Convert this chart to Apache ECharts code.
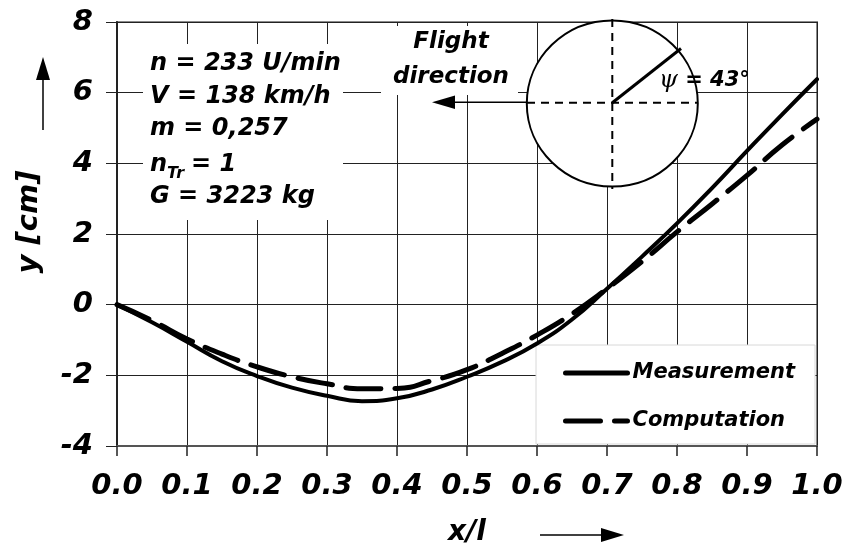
<!DOCTYPE html>
<html>
<head>
<meta charset="utf-8">
<script src="https://cdn.jsdelivr.net/npm/echarts@6/dist/echarts.min.js"></script>
<style>html,body{margin:0;padding:0;background:#fff}#c{width:849px;height:546px}</style>
</head>
<body>
<div id="c"></div>
<script>
const xVals = [0, 0.05, 0.1, 0.15, 0.2, 0.25, 0.3, 0.35, 0.4, 0.45, 0.5, 0.55, 0.6, 0.65, 0.7, 0.75, 0.8, 0.85, 0.9, 0.95, 1.0];
const measurement = [0, -0.50, -1.05, -1.60, -2.02, -2.35, -2.58, -2.73, -2.65, -2.40, -2.04, -1.62, -1.10, -0.42, 0.45, 1.36, 2.30, 3.30, 4.35, 5.38, 6.38];
const computation = [0, -0.45, -0.97, -1.40, -1.76, -2.04, -2.24, -2.38, -2.37, -2.15, -1.84, -1.38, -0.86, -0.26, 0.45, 1.22, 2.06, 2.85, 3.66, 4.52, 5.25];
const seriesNames = ['Measurement', 'Computation'];
const paramLines = ['n = 233 U/min', 'V = 138 km/h', 'm = 0,257', 'G = 3223 kg'];

const FONT = 'DejaVu Sans';
const chart = echarts.init(document.getElementById('c'), null, {renderer: 'canvas'});

function txt(x, y, text, size, align) {
  return {
    type: 'text', x: x, y: y, z: 10,
    style: {text: text, fill: '#000', font: 'italic bold ' + size + 'px "' + FONT + '"', align: align || 'left', verticalAlign: 'middle'}
  };
}

const graphics = [
  // white backgrounds
  {type: 'rect', z: 1, shape: {x: 143, y: 44, width: 200, height: 176}, style: {fill: '#fff'}},
  {type: 'rect', z: 1, shape: {x: 381, y: 26, width: 137, height: 69}, style: {fill: '#fff'}},
  {type: 'rect', z: 1, shape: {x: 536, y: 345, width: 279, height: 99}, style: {fill: '#fff', stroke: '#d8d8d8', lineWidth: 1}},
  // circle
  {type: 'ellipse', z: 3, shape: {cx: 612.3, cy: 103.5, rx: 85.5, ry: 83}, style: {fill: '#fff', stroke: '#000', lineWidth: 2}},
  {type: 'line', z: 4, shape: {x1: 527, y1: 102.7, x2: 698, y2: 102.7}, style: {stroke: '#000', lineWidth: 2, lineDash: [8, 6]}},
  {type: 'line', z: 4, shape: {x1: 612.3, y1: 19, x2: 612.3, y2: 189}, style: {stroke: '#000', lineWidth: 2, lineDash: [8, 6]}},
  {type: 'line', z: 4, shape: {x1: 612.3, y1: 102.7, x2: 681, y2: 48.5}, style: {stroke: '#000', lineWidth: 3}},
  // flight arrow
  {type: 'line', z: 4, shape: {x1: 527, y1: 102.2, x2: 450, y2: 102.2}, style: {stroke: '#000', lineWidth: 1.5}},
  {type: 'polygon', z: 4, shape: {points: [[432, 102.2], [455, 95.5], [455, 108.9]]}, style: {fill: '#000'}},
  // axis arrows
  {type: 'line', z: 4, shape: {x1: 43, y1: 130, x2: 43, y2: 75}, style: {stroke: '#000', lineWidth: 1.5}},
  {type: 'polygon', z: 4, shape: {points: [[43, 57], [36, 80], [50, 80]]}, style: {fill: '#000'}},
  {type: 'line', z: 4, shape: {x1: 540, y1: 535, x2: 605, y2: 535}, style: {stroke: '#000', lineWidth: 1.5}},
  {type: 'polygon', z: 4, shape: {points: [[624, 535], [601, 528], [601, 542]]}, style: {fill: '#000'}},
  // texts
  txt(451, 42, 'Flight', 23, 'center'),
  txt(451, 77, 'direction', 23, 'center'),
  {type: 'text', z: 10, x: 659, y: 81, style: {
    text: '{p|ψ}{b| = 43°}', align: 'left', verticalAlign: 'middle',
    rich: {
      p: {fontFamily: 'DejaVu Serif', fontStyle: 'italic', fontSize: 24, fill: '#000'},
      b: {fontFamily: FONT, fontStyle: 'italic', fontWeight: 'bold', fontSize: 21, fill: '#000'}
    }
  }},
  txt(150, 63.4, paramLines[0], 24),
  txt(150, 96.7, paramLines[1], 24),
  txt(150, 128.4, paramLines[2], 24),
  txt(150, 165, 'n', 24),
  txt(167, 174, 'Tr', 16),
  txt(191, 165, '= 1', 24),
  txt(150, 196.7, paramLines[3], 24),
  {type: 'text', z: 10, x: 29, y: 222, rotation: Math.PI / 2, style: {
    text: 'y [cm]', fill: '#000', font: 'italic bold 29px "' + FONT + '"', align: 'center', verticalAlign: 'middle'
  }}
];

const option = {
  animation: false,
  backgroundColor: '#fff',
  grid: {left: 117, right: 32, top: 22, bottom: 100, show: true, borderColor: '#8a8a8a', borderWidth: 2, containLabel: false, outerBoundsMode: 'none'},
  xAxis: {
    type: 'value', min: 0, max: 1, interval: 0.1,
    name: 'x/l', nameLocation: 'middle', nameGap: 73,
    nameTextStyle: {fontFamily: FONT, fontStyle: 'italic', fontWeight: 'bold', fontSize: 28, color: '#000'},
    axisLine: {show: true, onZero: false, lineStyle: {color: '#555', width: 2}},
    axisTick: {show: true, inside: false, length: 10, lineStyle: {color: '#222', width: 1.5}},
    axisLabel: {margin: 26, fontFamily: FONT, fontStyle: 'italic', fontWeight: 'bold', fontSize: 29, color: '#000',
      formatter: v => v.toFixed(1)},
    splitLine: {show: true, lineStyle: {color: '#222', width: 1}}
  },
  yAxis: {
    type: 'value', min: -4, max: 8, interval: 2,
    axisLine: {show: true, onZero: false, lineStyle: {color: '#222', width: 2}},
    axisTick: {show: true, inside: false, length: 11, lineStyle: {color: '#222', width: 1}},
    axisLabel: {margin: 24, fontFamily: FONT, fontStyle: 'italic', fontWeight: 'bold', fontSize: 29, color: '#000'},
    splitLine: {show: true, lineStyle: {color: '#222', width: 1}}
  },
  legend: {
    orient: 'vertical', left: 563, top: 361, padding: 0,
    itemWidth: 62, itemHeight: 24, itemGap: 24,
    data: seriesNames,
    itemStyle: {color: 'rgba(0,0,0,0)', borderWidth: 0, opacity: 0},
    lineStyle: {width: 5},
    textStyle: {fontFamily: FONT, fontStyle: 'italic', fontWeight: 'bold', fontSize: 21, color: '#000', lineHeight: 24}
  },
  series: [
    {name: seriesNames[0], type: 'line', symbol: 'none', smooth: 0.5, z: 3,
      itemStyle: {color: '#000'},
      lineStyle: {color: '#000', width: 4, cap: 'round'},
      data: xVals.map((x, i) => [x, measurement[i]])},
    {name: seriesNames[1], type: 'line', symbol: 'none', smooth: 0.5, z: 3,
      itemStyle: {color: '#000'},
      lineStyle: {color: '#000', width: 5, type: [35, 14], cap: 'round'},
      data: xVals.map((x, i) => [x, computation[i]])}
  ],
  graphic: graphics
};
chart.setOption(option);
</script>
</body>
</html>
